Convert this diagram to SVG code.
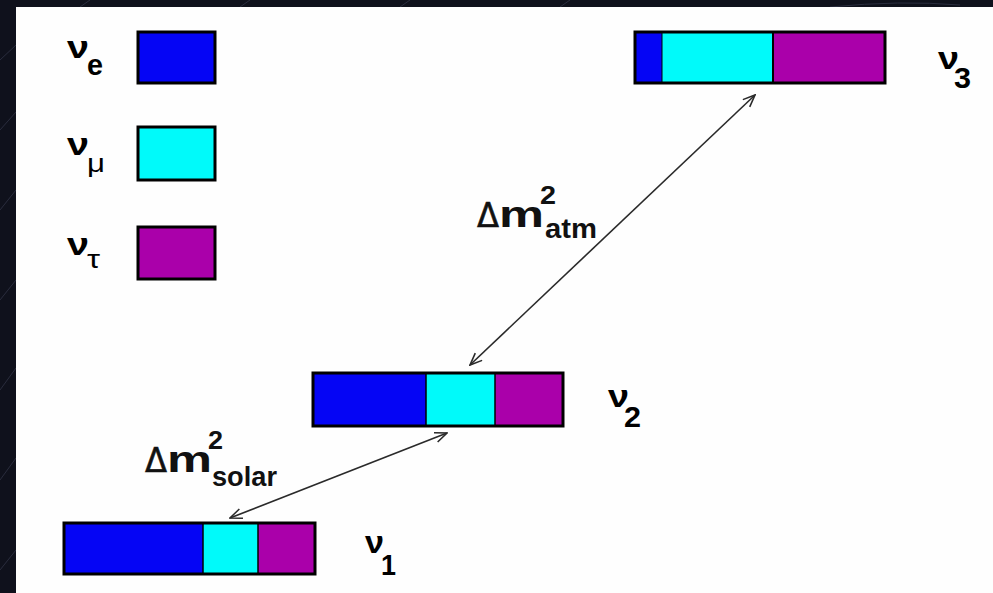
<svg xmlns="http://www.w3.org/2000/svg" width="993" height="593" viewBox="0 0 993 593">
<style>
.frame{fill:none;stroke:#000;stroke-width:3}
.blue{fill:#0505f5}
.cyan{fill:#00fafa}
.purple{fill:#aa00aa}
.nu{font-family:"Liberation Sans",Arial,sans-serif;font-weight:bold;font-size:31px;fill:#000}
.sub{font-family:"Liberation Sans",Arial,sans-serif;font-weight:bold;font-size:30px;fill:#000}
.lsub{font-family:"Liberation Sans",Arial,sans-serif;font-weight:bold;font-size:28px;fill:#111}
.greek{font-family:"Liberation Sans",Arial,sans-serif;font-size:25px;fill:#000}
.dm{font-family:"DejaVu Sans","Liberation Sans",sans-serif;font-size:33px;fill:#111;stroke:#111;stroke-width:0.6}
.mm{font-family:"Liberation Sans",Arial,sans-serif;font-weight:bold;font-size:37px;fill:#111}
.sup{font-family:"Liberation Sans",Arial,sans-serif;font-weight:bold;font-size:25px;fill:#111}
.conn{stroke:#2a2a2a;stroke-width:1.6;fill:none}
.tex{stroke:#2a2d3e;stroke-width:1;fill:none}
</style>
<defs>
<marker id="head" viewBox="0 0 14 12" refX="13" refY="6" markerWidth="14" markerHeight="12" markerUnits="userSpaceOnUse" orient="auto-start-reverse">
<path d="M1,1 L13,6 L1,11" fill="none" stroke="#2a2a2a" stroke-width="1.6"/>
</marker>
</defs>
<rect x="0" y="0" width="993" height="593" fill="#0f111c"/>
<g id="texture">
<path class="tex" d="M0,60 L16,45 M0,130 L16,112 M0,210 L16,190 M0,300 L16,280 M0,390 L16,368 M0,480 L16,458 M0,570 L16,550 M80,7 L90,0 M240,7 L250,0 M400,7 L410,0 M560,7 L570,0 M830,7 Q900,0 960,5"/>
</g>
<rect x="16" y="7" width="977" height="586" fill="#fefefe"/>

<g id="legend-ve">
<rect x="138" y="32" width="77" height="51" class="blue"/>
<rect x="138" y="32" width="77" height="51" class="frame"/>
<text x="67" y="58" class="nu" textLength="22" lengthAdjust="spacingAndGlyphs">ν</text>
<text x="87" y="75" class="sub" textLength="16" lengthAdjust="spacingAndGlyphs">e</text>
</g>
<g id="legend-vmu">
<rect x="138" y="127" width="77" height="53" class="cyan"/>
<rect x="138" y="127" width="77" height="53" class="frame"/>
<text x="67" y="155" class="nu" textLength="22" lengthAdjust="spacingAndGlyphs">ν</text>
<text x="87" y="172" class="greek" textLength="18" lengthAdjust="spacingAndGlyphs">μ</text>
</g>
<g id="legend-vtau">
<rect x="138" y="227" width="77" height="52" class="purple"/>
<rect x="138" y="227" width="77" height="52" class="frame"/>
<text x="67" y="255" class="nu" textLength="22" lengthAdjust="spacingAndGlyphs">ν</text>
<text x="87" y="268" class="greek" textLength="13" lengthAdjust="spacingAndGlyphs">τ</text>
</g>

<g id="nu3">
<rect x="635" y="32" width="27" height="51" class="blue"/>
<rect x="662" y="32" width="111" height="51" class="cyan"/>
<rect x="773" y="32" width="112" height="51" class="purple"/>
<line x1="773" y1="32" x2="773" y2="83" stroke="#000" stroke-width="2"/>
<line x1="662" y1="32" x2="662" y2="83" stroke="#000" stroke-width="1"/>
<rect x="635" y="32" width="250" height="51" class="frame"/>
<text x="938" y="69" class="nu" textLength="21" lengthAdjust="spacingAndGlyphs">ν</text>
<text x="954" y="88" class="sub" textLength="17" lengthAdjust="spacingAndGlyphs">3</text>
</g>

<g id="nu2">
<rect x="313" y="373" width="113" height="53" class="blue"/>
<rect x="426" y="373" width="69" height="53" class="cyan"/>
<rect x="495" y="373" width="68" height="53" class="purple"/>
<line x1="426" y1="373" x2="426" y2="426" stroke="#000" stroke-width="1.5"/>
<line x1="495" y1="373" x2="495" y2="426" stroke="#000" stroke-width="1.5"/>
<rect x="313" y="373" width="250" height="53" class="frame"/>
<text x="608" y="407" class="nu" textLength="21" lengthAdjust="spacingAndGlyphs">ν</text>
<text x="624" y="427" class="sub" textLength="17" lengthAdjust="spacingAndGlyphs">2</text>
</g>

<g id="nu1">
<rect x="64" y="523" width="139" height="51" class="blue"/>
<rect x="203" y="523" width="55" height="51" class="cyan"/>
<rect x="258" y="523" width="57" height="51" class="purple"/>
<line x1="203" y1="523" x2="203" y2="574" stroke="#000" stroke-width="1.5"/>
<line x1="258" y1="523" x2="258" y2="574" stroke="#000" stroke-width="1.5"/>
<rect x="64" y="523" width="251" height="51" class="frame"/>
<text x="365" y="553" class="nu" textLength="19" lengthAdjust="spacingAndGlyphs">ν</text>
<text x="381" y="575" class="sub" textLength="15" lengthAdjust="spacingAndGlyphs">1</text>
</g>

<g id="connectors">
<line class="conn" x1="470" y1="365" x2="755" y2="95" marker-start="url(#head)" marker-end="url(#head)"/>
<line class="conn" x1="230" y1="518" x2="447" y2="433" marker-start="url(#head)" marker-end="url(#head)"/>
</g>

<g id="label-atm">
<text x="477" y="227" class="dm" textLength="22" lengthAdjust="spacingAndGlyphs">Δ</text>
<text x="499" y="227" class="mm" textLength="45" lengthAdjust="spacingAndGlyphs">m</text>
<text x="540" y="204" class="sup" textLength="16" lengthAdjust="spacingAndGlyphs">2</text>
<text x="545" y="238" class="lsub" textLength="52" lengthAdjust="spacingAndGlyphs">atm</text>
</g>
<g id="label-solar">
<text x="145" y="472" class="dm" textLength="22" lengthAdjust="spacingAndGlyphs">Δ</text>
<text x="167" y="472" class="mm" textLength="45" lengthAdjust="spacingAndGlyphs">m</text>
<text x="208" y="449" class="sup" textLength="15" lengthAdjust="spacingAndGlyphs">2</text>
<text x="212" y="486" class="lsub" textLength="65" lengthAdjust="spacingAndGlyphs">solar</text>
</g>
</svg>
